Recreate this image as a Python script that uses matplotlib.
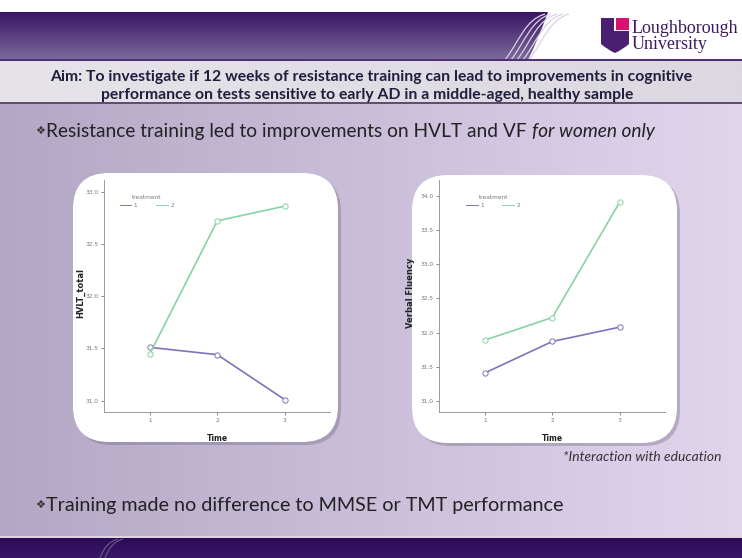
import numpy as np
import matplotlib
matplotlib.use('Agg')
import matplotlib.pyplot as plt
from matplotlib.patches import FancyBboxPatch, Rectangle, PathPatch
from matplotlib.path import Path
from matplotlib.colors import to_rgb

# ---------------- data ----------------
time_points = [1, 2, 3]
time_labels = ['1', '2', '3']
treatment_labels = ['1', '2']
hvlt_treat1 = [31.51, 31.44, 31.01]
hvlt_treat2 = [31.45, 32.72, 32.86]
vf_treat1 = [31.41, 31.87, 32.08]
vf_treat2 = [31.89, 32.22, 33.91]
hvlt_ticks = [31.0, 31.5, 32.0, 32.5, 33.0]
vf_ticks = [31.0, 31.5, 32.0, 32.5, 33.0, 33.5, 34.0]

aim_line1 = "Aim: To investigate if 12 weeks of resistance training can lead to improvements in cognitive"
aim_line2 = "performance on tests sensitive to early AD in a middle-aged, healthy sample"
bullet_sym = "\u2756"
bullet1 = "Resistance training led to improvements on HVLT and VF "
bullet1_it = "for women only"
bullet2 = "Training made no difference to MMSE or TMT performance"
footnote = "*Interaction with education"

FAM = ['Lato', 'DejaVu Sans']
W, H = 742, 558
fig = plt.figure(figsize=(W / 100, H / 100), dpi=100, facecolor='white')
bg = fig.add_axes([0, 0, 1, 1])
bg.axis('off')


def grad(c1, c2, extent, vertical=False, z=0):
    a = np.array(to_rgb(c1)); b = np.array(to_rgb(c2))
    t = np.linspace(0, 1, 256)
    arr = a[None, :] * (1 - t[:, None]) + b[None, :] * t[:, None]
    img = arr[:, None, :] if vertical else arr[None, :, :]
    bg.imshow(img, extent=extent, aspect='auto', interpolation='bilinear', zorder=z)


# main lavender background
grad('#b3a7c5', '#e1d5ee', (0, W, 540, 100), z=0)
# top purple band
grad('#3a1464', '#7c6b9d', (0, 560, 60, 12), vertical=True, z=1)
# white area right of band with curved edge
verts = [(548, 12), (W, 12), (W, 60), (528, 60), (538, 40), (548, 12)]
bg.add_patch(PathPatch(Path(verts, [1, 2, 2, 2, 3, 3]), fc='white', ec='none', zorder=2))
# swoosh lines
for off in [0, 6, 12, 18, 24]:
    p = Path([(505 + off, 60), (520 + off, 40), (525 + off, 20), (545 + off, 14)], [1, 4, 4, 4])
    bg.add_patch(PathPatch(p, fc='none', ec='#d9d2e2', lw=0.9, zorder=2))
# separator + aim band
bg.add_patch(Rectangle((0, 59), W, 2.5, fc='#4c2f74', ec='none', zorder=3))
grad('#e6e3e9', '#dcd7e0', (0, W, 102, 61.5), z=3)
bg.add_patch(Rectangle((0, 102), W, 1.8, fc='#5e4e72', ec='none', zorder=3))
# bottom band
bg.add_patch(Rectangle((0, 536), W, 2, fc='#ddd5e6', ec='none', zorder=3))
grad('#2c0b57', '#3b1768', (0, W, H, 538), vertical=True, z=3)
for off in [0, 5]:
    p = Path([(100 + off, H), (104 + off, 548), (108 + off, 542), (118 + off, 539)], [1, 4, 4, 4])
    bg.add_patch(PathPatch(p, fc='none', ec='#6d5a8d', lw=0.8, zorder=4))

# logo
shield = Path([(601, 18), (614, 18), (614, 31), (629, 31), (629, 44), (622, 50), (615, 53),
               (608, 50), (601, 44), (601, 18)], [1, 2, 2, 2, 2, 3, 3, 3, 3, 2])
bg.add_patch(PathPatch(shield, fc='#4a1f72', ec='none', zorder=5))
bg.add_patch(Rectangle((616, 18), 13, 11.5, fc='#d6116e', ec='none', zorder=5))
bg.text(632, 33, "Loughborough", fontsize=13, family='Liberation Serif', color='#3c1a5e',
        va='baseline', ha='left', zorder=5)
bg.text(632, 49, "University", fontsize=13, family='Liberation Serif', color='#3c1a5e',
        va='baseline', ha='left', zorder=5)

# aim text
bg.text(371, 77, aim_line1, fontsize=11.3, fontweight='bold', color='#1e1e3e', family=FAM,
        ha='center', va='center', zorder=6)
bg.text(367, 95, aim_line2, fontsize=11.3, fontweight='bold', color='#1e1e3e', family=FAM,
        ha='center', va='center', zorder=6)

# bullets
fig.canvas.draw()


def bullet(y, parts, size):
    s = bg.text(35, y, bullet_sym, fontsize=8, color='#333333', family=['DejaVu Sans'],
                ha='left', va='center', zorder=6)
    fig.canvas.draw()
    x = s.get_window_extent().x1 + 1
    for txt, style in parts:
        t = bg.text(x, y, txt, fontsize=size, style=style, color='#222222', family=FAM,
                    ha='left', va='center', zorder=6)
        fig.canvas.draw()
        x = t.get_window_extent().x1


bullet(131, [(bullet1, 'normal'), (bullet1_it, 'italic')], 13.8)
bullet(505, [(bullet2, 'normal')], 14.2)
bg.text(563, 457, footnote, fontsize=10, style='italic', color='#333333', family=FAM,
        ha='left', va='center', zorder=6)

# panels
for (x0, y0, x1, y1) in [(73, 173, 338, 442), (412, 175, 677, 443)]:
    bg.add_patch(FancyBboxPatch((x0 + 3, y0 + 3), x1 - x0, y1 - y0,
                                boxstyle='round,pad=0,rounding_size=36', fc='#6e6478', ec='none',
                                alpha=0.35, zorder=6))
    bg.add_patch(FancyBboxPatch((x0, y0), x1 - x0, y1 - y0,
                                boxstyle='round,pad=0,rounding_size=36', fc='white', ec='none',
                                zorder=7))

bg.set_xlim(0, W)
bg.set_ylim(H, 0)

PURPLE = '#7b75ba'
GREEN = '#86d3a6'


def chart(left, right, top, bottom, ylim, yticks, s1, s2, ylabel, ylab_x, leg_x):
    ax = fig.add_axes([left / W, 1 - bottom / H, (right - left) / W, (bottom - top) / H])
    ax.set_facecolor('none')
    ax.plot(time_points, s1, color=PURPLE, lw=1.2, marker='o', ms=3.8, mfc='white',
            mec=PURPLE, mew=0.7, label=treatment_labels[0])
    ax.plot(time_points, s2, color=GREEN, lw=1.2, marker='o', ms=3.8, mfc='white',
            mec=GREEN, mew=0.7, label=treatment_labels[1])
    ax.set_xlim(0.32, 3.67)
    ax.set_ylim(*ylim)
    ax.set_xticks(time_points)
    ax.set_xticklabels(time_labels)
    ax.set_yticks(yticks)
    ax.set_yticklabels([f"{v:.1f}" for v in yticks])
    for s in ['top', 'right']:
        ax.spines[s].set_visible(False)
    for s in ['left', 'bottom']:
        ax.spines[s].set_color('#9a9a9a')
        ax.spines[s].set_linewidth(0.7)
    ax.tick_params(labelsize=4.2, colors='#777777', length=2.5, width=0.6, pad=1.5)
    ax.set_xlabel('Time', fontsize=5.5, fontweight='bold', color='#222222', family='DejaVu Sans')
    ax.xaxis.set_label_coords(0.5, -0.093)
    ax.set_ylabel(ylabel, fontsize=6, fontweight='bold', color='#222222', family='DejaVu Sans')
    ax.yaxis.set_label_coords(ylab_x, 0.515)
    leg = ax.legend(title='treatment', ncol=2, fontsize=4.2, title_fontsize=4.2, frameon=False,
                    loc='upper left', bbox_to_anchor=(leg_x, 0.935), borderaxespad=0, borderpad=0,
                    handlelength=2.0, handletextpad=0.4, columnspacing=3.2)
    for t in leg.get_texts():
        t.set_color('#777777')
    leg.get_title().set_color('#777777')
    for h in leg.legend_handles:
        h.set_marker('')
        h.set_linewidth(0.7)
    return ax


chart(104, 330, 180, 412, (30.892, 33.11), hvlt_ticks, hvlt_treat1, hvlt_treat2,
      'HVLT_total', -0.084, 0.07)
chart(439, 665, 180, 412, (30.839, 34.23), vf_ticks, vf_treat1, vf_treat2,
      'Verbal Fluency', -0.106, 0.12)

fig.savefig('out.png', dpi=100, facecolor='white')
